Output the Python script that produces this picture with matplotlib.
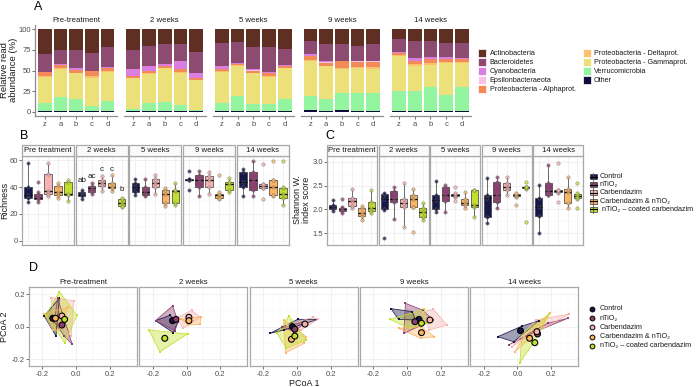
import numpy as np
import matplotlib
matplotlib.use("Agg")
import matplotlib.pyplot as plt
from matplotlib.patches import Polygon, Rectangle

plt.rcParams['font.family'] = ['Liberation Sans', 'DejaVu Sans']
plt.rcParams['axes.unicode_minus'] = False

W, H = 697, 387

# ---------------- panel A: relative read abundance ----------------
times_a = ["Pre-treatment", "2 weeks", "5 weeks", "9 weeks", "14 weeks"]
samples_a = ["z", "a", "b", "c", "d"]
taxa = ["Actinobacteria", "Bacteroidetes", "Cyanobacteria", "Epsilonbacteraeota",
        "Proteobacteria - Alphaprot.", "Proteobacteria - Deltaprot.",
        "Proteobacteria - Gammaprot.", "Verrucomicrobia", "Other"]
taxa_colors = ["#5E2F22", "#8E4B72", "#DA7FE0", "#F9C3E9", "#F28B58",
               "#FDBF70", "#EBE07A", "#93F5A0", "#0F0C3C"]

# one row per time point, one value per sample (z, a, b, c, d)
actino = [[29.5, 25, 25, 28.5, 21], [25, 20, 18, 18, 28], [17, 15, 21, 21, 23.5],
          [14, 18, 17.5, 20, 17.5], [11.5, 14, 14, 16.5, 17]]
bactero = [[22, 17, 22.5, 21.5, 25], [23, 25, 24.5, 20.5, 25], [28, 25.5, 27, 31, 20],
           [16.5, 21, 20.5, 18.5, 20.5], [16.5, 21, 20, 17.5, 18]]
cyano = [[0.5, 1, 1.5, 0.5, 0.5], [8.5, 5.5, 1.5, 9.5, 5.5], [3, 1.5, 1.5, 0.5, 1],
         [1.5, 1, 0.5, 0.5, 1], [0.5, 3, 1.5, 1.5, 1]]
epsilon = [[0, 0.5, 0.5, 0, 0], [0.5, 0.5, 0, 0.5, 0.5], [0.5, 0.5, 0.5, 0.5, 0.5],
           [0.5, 0.5, 0.5, 0.5, 0.5], [0.5, 0.5, 0.5, 0.5, 0.5]]
alphap = [[4.5, 3.5, 3, 6.5, 4], [1.5, 2, 2.5, 3, 2], [2, 1, 2.5, 3, 1.5],
          [4.5, 3.5, 7.5, 6, 6.5], [2, 4, 5.5, 4, 3.5]]
deltap = [[1, 1, 1, 1.5, 1], [0.5, 1, 1, 1, 1], [1, 0.5, 1, 1, 1],
          [1, 1, 2, 2, 2], [1, 1.5, 1.5, 1, 1.5]]
gammap = [[32, 34.5, 31, 35, 35.5], [37, 35.5, 40.5, 39.5, 35.5], [38, 36.5, 37, 33, 37.5],
          [42.5, 39, 29, 30, 29], [42.5, 30.5, 27, 38.5, 29]]
verruco = [[9.5, 16.5, 14.5, 5.5, 12.5], [3, 9.5, 11, 6.5, 2], [9, 18.5, 8.5, 8.5, 14],
           [17.5, 15, 20.5, 21.5, 22], [24.5, 24, 28.5, 19.5, 29]]
other = [[1, 1, 1, 1, 0.5], [1, 1, 1, 1.5, 0.5], [1.5, 1, 1, 1, 1],
         [2, 1, 2, 1, 1], [1, 1.5, 1.5, 1, 1]]

# ---------------- panels B / C: richness and Shannon ----------------
times_bc = ["Pre treatment", "2 weeks", "5 weeks", "9 weeks", "14 weeks"]
groups = ["Control", "nTiO\u2082", "Carbendazim", "Carbendazim & nTiO\u2082",
          "nTiO\u2082 \u2013 coated carbendazim"]
group_colors = ["#16164A", "#8C3F6E", "#F7B3B3", "#FDB563", "#C3DF2C"]

richness = [
    [[29, 32, 34, 40, 58], [29, 31, 32, 35, 36], [33, 35, 37, 50, 58], [32, 34, 36, 41, 43], [30, 34, 35, 44, 45]],
    [[31, 33, 34, 36, 38], [35, 36, 39, 41, 43], [37, 41, 43, 45, 48], [37, 39, 40, 43, 49], [25, 26, 28, 31, 32]],
    [[34, 36, 40, 43, 46], [33, 34, 36, 40, 46], [35, 40, 43, 46, 49], [26, 28, 35, 38, 39], [27, 28, 37, 38, 43]],
    [[45, 45, 45, 46, 46], [33, 40, 45, 49, 52], [35, 40, 45, 48, 51], [31, 32, 34, 35, 36], [36, 38, 42, 44, 47]],
    [[33, 40, 44, 51, 53], [33, 38, 45, 51, 59], [39, 39.5, 40.5, 42, 42], [33, 34, 40, 45, 45], [27, 32, 35, 39, 40]],
]
richness_out = {(0, 1): [44], (3, 0): [52, 38], (3, 3): [49], (4, 2): [57, 31],
                (4, 3): [59], (4, 4): [59]}
letters_2w = ["ab", "ac", "c", "c", "b"]
letters_y = [44.5, 47.5, 53, 53, 38]

shannon = [
    [[1.97, 2.00, 2.06, 2.10, 2.20], [1.92, 1.96, 2.00, 2.03, 2.05], [2.02, 2.07, 2.18, 2.25, 2.43],
     [1.78, 1.86, 1.93, 2.03, 2.07], [1.92, 1.96, 2.03, 2.15, 2.40]],
    [[1.99, 2.00, 2.22, 2.32, 2.35], [1.81, 2.16, 2.22, 2.38, 2.48], [1.64, 2.05, 2.13, 2.22, 2.55],
     [2.05, 2.06, 2.22, 2.30, 2.43], [1.78, 1.85, 1.95, 2.03, 2.14]],
    [[1.95, 2.00, 2.20, 2.30, 2.60], [1.95, 2.18, 2.30, 2.48, 2.52], [2.27, 2.28, 2.30, 2.32, 2.34],
     [2.02, 2.10, 2.14, 2.22, 2.37], [1.85, 2.06, 2.09, 2.40, 2.41]],
    [[1.71, 1.85, 2.23, 2.30, 2.65], [2.02, 2.16, 2.30, 2.58, 2.69], [2.30, 2.41, 2.47, 2.55, 2.69],
     [2.27, 2.28, 2.30, 2.32, 2.34], [2.42, 2.44, 2.46, 2.47, 2.48]],
    [[1.50, 1.87, 2.05, 2.25, 2.51], [2.30, 2.31, 2.39, 2.55, 2.93], [2.34, 2.36, 2.38, 2.40, 2.41],
     [2.02, 2.13, 2.37, 2.43, 2.69], [2.21, 2.23, 2.28, 2.33, 2.35]],
]
shannon_out = {(0, 1): [2.22], (1, 0): [1.40], (1, 3): [1.52], (2, 2): [2.46, 2.17],
               (3, 3): [2.09], (3, 4): [2.58, 1.74], (4, 2): [2.98, 2.16], (4, 4): [2.55, 2.02]}

# ---------------- panel D: PCoA hulls and centroids ----------------
times_d = ["Pre-treatment", "2 weeks", "5 weeks", "9 weeks", "14 weeks"]
hulls = [
    [[(-0.19, 0.066), (-0.10, 0.175), (-0.12, -0.058)],
     [(-0.11, 0.175), (-0.024, -0.109), (-0.07, -0.06), (-0.13, 0.03)],
     [(-0.15, 0.18), (-0.016, 0.16), (-0.03, -0.06), (-0.13, 0.06)],
     [(-0.19, 0.08), (-0.05, 0.12), (-0.10, -0.02), (-0.14, -0.02)],
     [(-0.10, 0.216), (0.004, 0.07), (-0.069, -0.099), (-0.18, 0.07)]],
    [[(-0.184, 0.037), (-0.10, 0.07), (-0.05, 0.031), (-0.079, -0.037)],
     [(-0.083, 0.128), (-0.05, 0.031), (-0.069, -0.025), (-0.184, 0.037)],
     [(-0.06, 0.052), (0.03, 0.10), (0.083, 0.058), (-0.02, -0.01)],
     [(-0.03, 0.045), (0.085, 0.062), (0.08, 0.014), (0.01, 0.01)],
     [(-0.224, -0.02), (0.006, -0.045), (-0.158, -0.155)]],
    [[(-0.158, -0.041), (0.004, 0.045), (0.125, 0.045), (-0.077, -0.021)],
     [(-0.087, 0.0), (0.055, 0.031), (-0.016, -0.031)],
     [(-0.057, 0.01), (0.095, 0.058), (0.125, 0.045), (0.024, -0.021)],
     [(-0.077, 0.041), (0.055, -0.062), (0.044, -0.103), (-0.067, -0.161)],
     [(-0.046, 0.066), (0.055, -0.082), (-0.063, -0.134), (-0.117, -0.041)]],
    [[(-0.095, 0.111), (0.03, 0.093), (0.05, 0.041), (-0.051, 0.045)],
     [(-0.01, 0.144), (0.091, 0.103), (0.152, 0.041), (-0.02, -0.041)],
     [(0.091, 0.093), (0.156, 0.107), (0.236, 0.01), (0.131, -0.021)],
     [(-0.051, -0.01), (0.081, 0.0), (0.162, -0.062), (0.081, -0.072)],
     [(-0.101, 0.045), (0.101, 0.107), (0.121, 0.021), (0.01, -0.01)]],
    [[(-0.117, -0.062), (0.028, 0.004), (0.129, 0.037), (-0.022, -0.093)],
     [(-0.052, -0.113), (0.129, -0.021), (0.30, 0.052), (0.179, 0.021)],
     [(-0.032, -0.124), (0.028, -0.082), (0.306, 0.078), (0.109, 0.041)],
     [(-0.016, -0.155), (0.129, -0.021), (0.193, 0.082), (0.038, -0.062)],
     [(0.014, -0.223), (0.099, -0.093), (0.189, 0.078), (0.028, -0.041)]],
]
centroids = [
    [(-0.139, 0.052), (-0.085, 0.010), (-0.085, 0.066), (-0.123, 0.052), (-0.069, 0.045)],
    [(-0.083, 0.037), (-0.063, 0.045), (0.014, 0.058), (0.014, 0.037), (-0.129, -0.072)],
    [(-0.026, 0.0), (-0.012, -0.016), (0.048, 0.016), (-0.032, -0.078), (-0.012, -0.058)],
    [(0.07, 0.045), (0.046, 0.031), (0.135, 0.041), (0.085, -0.037), (0.085, 0.021)],
    [(0.018, -0.025), (0.119, -0.045), (0.115, -0.031), (0.072, -0.072), (0.103, -0.099)],
]

TXT = "#1A1A1A"
TICK = "#4D4D4D"
BORDER = "#A8A8A8"
GRID = "#EBEBEB"
LEG = 5.2

fig = plt.figure(figsize=(W / 100, H / 100), dpi=100)


def px_ax(x, y, w, h):
    """Axes placed by pixel box, origin at top left."""
    return fig.add_axes([x / W, 1 - (y + h) / H, w / W, h / H])


# overlay in pixel coordinates for labels, strips and legends
ov = fig.add_axes([0, 0, 1, 1])
ov.set_xlim(0, W)
ov.set_ylim(H, 0)
ov.axis("off")
ov.set_zorder(10)

# ---------------- A ----------------
stack = [other, verruco, gammap, deltap, alphap, epsilon, cyano, bactero, actino]
stack_cols = taxa_colors[::-1]
for k, t in enumerate(times_a):
    ax = px_ax(35.3 + 88.6 * k, 25, 81.6, 91)
    tot = sum(np.array(s[k], dtype=float) for s in stack)
    bottom = np.zeros(5)
    for s, c in zip(stack, stack_cols):
        v = np.array(s[k], dtype=float) / tot * 100
        ax.bar(np.arange(5), v, 0.87, bottom=bottom, color=c, linewidth=0)
        bottom += v
    ax.set_xlim(-0.6, 4.6)
    ax.set_ylim(-5, 105)
    for sp in ["top", "right"]:
        ax.spines[sp].set_visible(False)
    ax.spines["bottom"].set_color("#8C8C8C")
    ax.spines["left"].set_color("#8C8C8C")
    ax.spines["bottom"].set_linewidth(0.9)
    ax.spines["left"].set_linewidth(0.9)
    ax.set_xticks(np.arange(5))
    ax.set_xticklabels(samples_a)
    ax.tick_params(axis="x", length=2, width=0.5, color="#333333", labelsize=5.5,
                   labelcolor=TICK, pad=1.5)
    if k == 0:
        ax.set_yticks([0, 25, 50, 75, 100])
        ax.tick_params(axis="y", length=2, width=0.5, color="#333333", labelsize=5.5,
                       labelcolor=TICK, pad=1)
    else:
        ax.spines["left"].set_visible(False)
        ax.set_yticks([])
    ov.text(35.3 + 88.6 * k + 40.8, 20, t, ha="center", va="center", fontsize=5.6, color=TXT)

ov.text(38, 7, "A", fontsize=9, ha="center", va="center", color="black")
ov.text(9, 70, "Relative read\nabundance (%)", rotation=90, ha="center", va="center",
        fontsize=6.8, color=TXT, linespacing=1.0)

# legend A
for i, (name, col) in enumerate(zip(taxa, taxa_colors)):
    cx, ty = (478, 489.5) if i < 5 else (583, 594)
    yy = 53.3 + 9 * (i % 5 if i < 5 else i - 5)
    ov.add_patch(Rectangle((cx, yy - 4), 8, 8, facecolor=col, edgecolor="white", lw=0.5))
    ov.text(ty, yy, name, ha="left", va="center", fontsize=LEG, color=TXT)


# ---------------- B and C ----------------
def box_facets(x0, step, w, data, outliers, ylim, yticks, ylabels, minor, letters=None):
    for k, t in enumerate(times_bc):
        x = x0 + step * k
        ax = px_ax(x, 156, w, 89)
        bp = ax.boxplot(data[k], positions=np.arange(1, 6), widths=0.75, whis=(0, 100),
                        patch_artist=True, showfliers=False, showcaps=False,
                        boxprops=dict(edgecolor="#3A3A3A", linewidth=0.5),
                        whiskerprops=dict(color="#555555", linewidth=0.6),
                        medianprops=dict(color="black", linewidth=0.9))
        for patch, c in zip(bp["boxes"], group_colors):
            patch.set_facecolor(c)
        for g in range(5):
            vals = list(data[k][g]) + outliers.get((k, g), [])
            ax.scatter([g + 1] * len(vals), vals, s=6, color=group_colors[g], alpha=0.75,
                       edgecolors="#6E6E6E", linewidths=0.4, zorder=4)
        ax.set_xlim(0.4, 5.6)
        ax.set_ylim(*ylim)
        ax.set_xticks(np.arange(1, 6))
        ax.set_xticklabels([])
        ax.set_yticks(yticks)
        ax.set_yticks(minor, minor=True)
        ax.grid(True, which="major", color=GRID, linewidth=0.5)
        ax.grid(True, which="minor", color="#F3F3F3", linewidth=0.35)
        ax.set_axisbelow(True)
        ax.tick_params(axis="x", length=0)
        ax.tick_params(axis="y", which="minor", length=0)
        if k == 0:
            ax.set_yticklabels(ylabels)
            ax.tick_params(axis="y", length=2, width=0.5, color="#333333", labelsize=5.5,
                           labelcolor=TICK, pad=1)
        else:
            ax.set_yticklabels([])
            ax.tick_params(axis="y", length=0)
        for sp in ax.spines.values():
            sp.set_color(BORDER)
            sp.set_linewidth(0.9)
        if letters is not None and k == 1:
            for g, (lt, ly) in enumerate(zip(*letters)):
                ax.text(g + 1, ly, lt, ha="center", va="center", fontsize=5.8, color=TXT)
        ov.add_patch(Rectangle((x, 145), w, 11, facecolor="#FAFAFA", edgecolor=BORDER, lw=0.9))
        ov.text(x + w / 2, 150.7, t, ha="center", va="center", fontsize=5.6, color=TXT)


box_facets(22, 53.7, 52, richness, richness_out, (-3, 63), [0, 20, 40, 60],
           ["0", "20", "40", "60"], [10, 30, 50], letters=(letters_2w, letters_y))
box_facets(327, 51.5, 50, shannon, shannon_out, (1.255, 3.12), [1.5, 2.0, 2.5, 3.0],
           ["1.5", "2.0", "2.5", "3.0"], [1.75, 2.25, 2.75])

ov.text(24, 136, "B", fontsize=9, ha="center", va="center", color="black")
ov.text(330, 136, "C", fontsize=9, ha="center", va="center", color="black")
ov.text(5, 200, "Richness", rotation=90, ha="center", va="center", fontsize=6.5, color=TXT)
ov.text(302, 200, "Shannon W.\nindex score", rotation=90, ha="center", va="center",
        fontsize=6.5, color=TXT, linespacing=1.0)

# legend B/C
for i, (name, col) in enumerate(zip(groups, group_colors)):
    yy = 176.5 + 8.2 * i
    ov.plot([593.3, 593.3], [yy - 3.8, yy + 3.8], color="#555555", lw=0.6)
    ov.add_patch(Rectangle((590, yy - 2.5), 6.7, 5, facecolor=col, edgecolor="#3A3A3A", lw=0.5))
    ov.plot([590, 596.7], [yy, yy], color="black", lw=0.8)
    ov.text(600, yy, (" " if i == 4 else "") + name, ha="left", va="center", fontsize=LEG, color=TXT)

# ---------------- D ----------------
for k, t in enumerate(times_d):
    x = 29 + 110.3 * k
    ax = px_ax(x, 287, 108, 79)
    for g in range(5):
        pts = np.array(hulls[k][g])
        ax.add_patch(Polygon(pts, closed=True, facecolor=group_colors[g], alpha=0.4,
                             edgecolor="none", zorder=2))
        ax.add_patch(Polygon(pts, closed=True, facecolor="none", edgecolor=group_colors[g],
                             lw=0.6, alpha=0.9, zorder=3))
        ax.scatter(pts[:, 0], pts[:, 1], s=3, marker="s", color=group_colors[g], zorder=4,
                   linewidths=0)
    cen = np.array(centroids[k])
    ax.scatter(cen[:, 0], cen[:, 1], s=18, c=group_colors, edgecolors="black",
               linewidths=0.8, zorder=5)
    ax.set_xlim(-0.28, 0.36)
    ax.set_ylim(-0.243, 0.245)
    ax.set_xticks([-0.2, 0.0, 0.2])
    ax.set_xticks([-0.1, 0.1, 0.3], minor=True)
    ax.set_yticks([-0.2, 0.0, 0.2])
    ax.set_yticks([-0.1, 0.1], minor=True)
    ax.grid(True, which="major", color=GRID, linewidth=0.5)
    ax.grid(True, which="minor", color="#F3F3F3", linewidth=0.35)
    ax.set_axisbelow(True)
    ax.tick_params(which="minor", length=0)
    ax.tick_params(axis="x", length=2, width=0.5, color="#333333", labelsize=5.5,
                   labelcolor=TICK, pad=1.5)
    if k == 0:
        ax.tick_params(axis="y", length=2, width=0.5, color="#333333", labelsize=5.5,
                       labelcolor=TICK, pad=1)
    else:
        ax.set_yticklabels([])
        ax.tick_params(axis="y", length=0)
    for sp in ax.spines.values():
        sp.set_color(BORDER)
        sp.set_linewidth(0.9)
    ov.text(x + 54, 282, t, ha="center", va="center", fontsize=5.6, color=TXT)

ov.text(33, 268, "D", fontsize=9, ha="center", va="center", color="black")
ov.text(5, 327, "PCoA 2", rotation=90, ha="center", va="center", fontsize=6.5, color=TXT)
ov.text(304, 383.5, "PCoA 1", ha="center", va="center", fontsize=6.5, color=TXT)

# legend D
for i, (name, col) in enumerate(zip(groups, group_colors)):
    yy = 309 + 9.2 * i
    ov.scatter([592], [yy], s=12, color=col, edgecolors="black", linewidths=0.7)
    ov.text(599.5, yy, name, ha="left", va="center", fontsize=LEG, color=TXT)

fig.savefig("out.png", dpi=100)
